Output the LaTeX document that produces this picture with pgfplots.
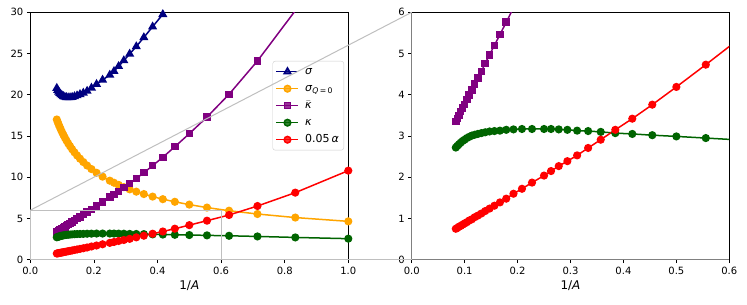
\documentclass[border=0pt]{standalone}
\usepackage{fontspec}
\setmainfont{DejaVu Sans}
\usepackage{pgfplots}
\usepackage{pgfplotstable}
\pgfplotsset{compat=1.18}

\definecolor{cnavy}{HTML}{000080}
\definecolor{corange}{HTML}{FFA500}
\definecolor{cpurple}{HTML}{800080}
\definecolor{cgreen}{HTML}{006400}
\definecolor{cred}{HTML}{FF0000}
\definecolor{cind}{HTML}{BFBFBF}
\definecolor{cspine}{HTML}{808080}

\pgfplotstableread{
x sigma sigq kbar kappa alpha
1.0000 65.00 4.65 39.50 2.55 10.80
0.8333 54.00 5.11 30.20 2.70 8.13
0.7143 46.50 5.54 24.10 2.82 6.51
0.6250 41.00 5.94 20.06 2.90 5.42
0.5556 37.00 6.32 17.30 2.95 4.73
0.5000 34.00 6.68 15.28 2.99 4.19
0.4545 31.60 7.02 13.70 3.02 3.76
0.4167 29.75 7.34 12.42 3.05 3.42
0.3846 28.25 7.65 11.40 3.07 3.15
0.3571 26.95 7.96 10.55 3.10 2.91
0.3333 25.85 8.25 9.85 3.12 2.71
0.3125 24.95 8.53 9.25 3.13 2.53
0.2941 24.15 8.80 8.75 3.15 2.39
0.2778 23.45 9.07 8.30 3.16 2.27
0.2632 22.85 9.33 7.93 3.17 2.15
0.2500 22.40 9.58 7.58 3.17 2.04
0.2273 21.80 10.07 7.00 3.17 1.87
0.2083 21.28 10.54 6.52 3.17 1.72
0.1923 20.83 10.99 6.11 3.16 1.60
0.1786 20.45 11.42 5.76 3.15 1.48
0.1667 20.22 11.84 5.46 3.13 1.39
0.1563 20.05 12.25 5.20 3.12 1.31
0.1471 19.90 12.64 4.97 3.11 1.24
0.1389 19.79 13.02 4.76 3.09 1.18
0.1316 19.71 13.39 4.57 3.07 1.12
0.1250 19.67 13.76 4.41 3.05 1.07
0.1190 19.66 14.11 4.26 3.03 1.03
0.1136 19.68 14.46 4.12 3.01 0.98
0.1087 19.73 14.80 3.99 2.98 0.95
0.1042 19.80 15.13 3.88 2.95 0.91
0.1000 19.90 15.45 3.77 2.91 0.88
0.0962 20.03 15.77 3.68 2.88 0.85
0.0926 20.18 16.09 3.59 2.84 0.82
0.0893 20.35 16.39 3.50 2.80 0.80
0.0862 20.55 16.70 3.42 2.76 0.77
0.0833 20.80 17.00 3.35 2.72 0.75
}\datatab

\pgfplotsset{
  panel/.style={
    scale only axis,
    tick align=outside,
    xtick pos=left, ytick pos=left,
    major tick length=3.5pt,
    tick style={black, line width=0.8pt},
    axis line style={line width=0.8pt},
    tick label style={font=\fontsize{10}{12}\selectfont},
    label style={font=\fontsize{12}{14}\selectfont},
    /pgf/number format/assume math mode=true,
    xticklabel style={/pgf/number format/.cd, fixed, fixed zerofill, precision=1},
    yticklabel style={/pgf/number format/.cd, fixed, precision=0},
    xlabel={1/\textit{A}},
    every axis plot/.append style={line width=1.5pt},
    legend image code/.code={\draw[mark repeat=2,mark phase=2,#1] plot coordinates {(0pt,0pt)(11pt,0pt)(22pt,0pt)};},
  },
  sig/.style={cnavy, mark=triangle*, mark size=3.8pt, mark options={solid}},
  sigq/.style={corange, mark=*, mark size=3.3pt},
  kb/.style={cpurple, mark=square*, mark size=3.0pt},
  ka/.style={cgreen, mark=*, mark size=3.3pt},
  al/.style={cred, mark=*, mark size=3.3pt},
}

\begin{document}
\begin{tikzpicture}[x=1pt,y=1pt]
\path[use as bounding box] (0,0) rectangle (747,305);
\begin{axis}[panel,
  at={(30.3pt,45.3pt)}, anchor=south west,
  width=318pt, height=247.4pt,
  xmin=0, xmax=1, ymin=0, ymax=30,
  xtick={0,0.2,0.4,0.6,0.8,1.0},
  ytick={0,5,10,15,20,25,30},
  legend cell align=left,
  legend style={at={(rel axis cs:1,1)}, anchor=north east, xshift=-4.3pt, yshift=-48.7pt,
    draw=black!20, rounded corners=2.5pt, fill=white, fill opacity=0.8, text opacity=1,
    font=\fontsize{11}{13}\selectfont, inner xsep=3pt, inner ysep=3pt, row sep=2pt,
    nodes={text height=8.5pt, text depth=2.5pt},
    /tikz/every odd column/.append style={column sep=4pt}},
]
\addplot[sig] table[x=x,y=sigma] {\datatab};
\addlegendentry{\textit{σ}}
\addplot[sigq] table[x=x,y=sigq] {\datatab};
\addlegendentry{\textit{σ}\textsubscript{\textit{Q}\,=\,0}}
\addplot[kb] table[x=x,y=kbar] {\datatab};
\addlegendentry{\ensuremath{\bar{\mbox{\textit{κ}}}}}
\addplot[ka] table[x=x,y=kappa] {\datatab};
\addlegendentry{\textit{κ}}
\addplot[al] table[x=x,y=alpha] {\datatab};
\addlegendentry{0.05\,\textit{α}}
\coordinate (lA) at (axis cs:0,6);
\coordinate (lB) at (axis cs:0.6,0);
\coordinate (lC) at (axis cs:0.6,6);
\coordinate (lD) at (axis cs:0,0);
\end{axis}
\begin{axis}[panel,
  at={(411.7pt,45.3pt)}, anchor=south west,
  width=317.6pt, height=247.4pt,
  xmin=0, xmax=0.6, ymin=0, ymax=6,
  xtick={0,0.1,0.2,0.3,0.4,0.5,0.6},
  ytick={0,1,2,3,4,5,6},
]
\addplot[sig] table[x=x,y=sigma] {\datatab};
\addplot[sigq] table[x=x,y=sigq] {\datatab};
\addplot[kb] table[x=x,y=kbar] {\datatab};
\addplot[ka] table[x=x,y=kappa] {\datatab};
\addplot[al] table[x=x,y=alpha] {\datatab};
\coordinate (rTL) at (rel axis cs:0,1);
\coordinate (rBL) at (rel axis cs:0,0);
\coordinate (rBR) at (rel axis cs:1,0);
\end{axis}
\draw[cspine, line width=0.8pt] (rBL) -- (rTL);
\draw[cspine, line width=0.8pt] (rBL) -- (rBR);
\draw[cind, line width=1pt] (lD) -- (lA) -- (lC) -- (lB) -- cycle;
\draw[cind, line width=1pt] (lA) -- (rTL);
\draw[cind, line width=1pt] (lB) -- (rBL);
\end{tikzpicture}
\end{document}
